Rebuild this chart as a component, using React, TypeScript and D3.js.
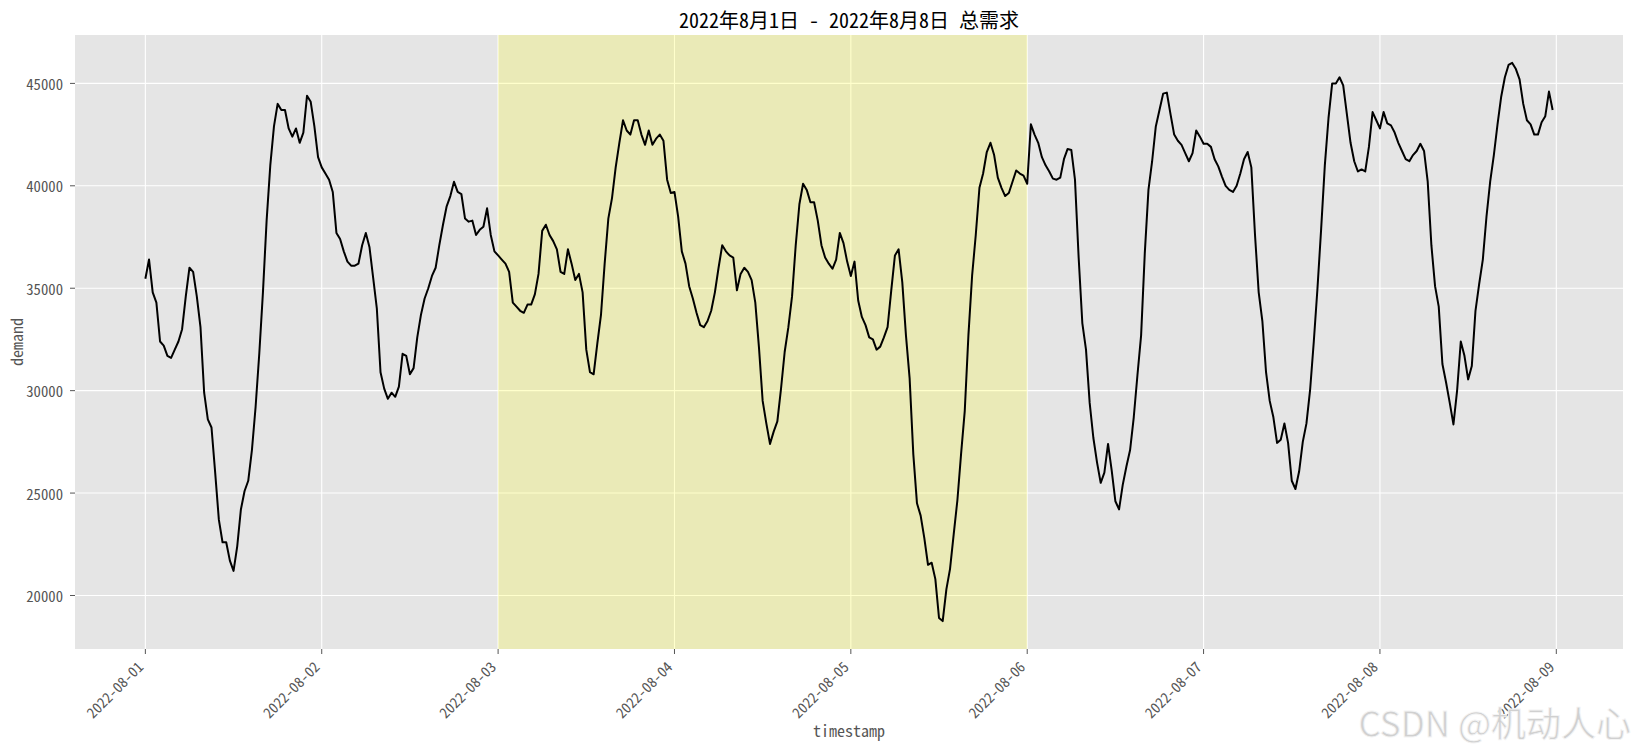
import { useMemo } from "react";
import * as d3 from "d3";

// half-hourly total demand, 2022-08-01 00:00 .. 2022-08-08 23:30
const day1 = [
  35460, 36400, 34800, 34300, 32400, 32200, 31700, 31600, 32000, 32400, 33000, 34600,
  36000, 35800, 34600, 33100, 29900, 28600, 28200, 26000, 23700, 22600, 22600, 21700,
  21200, 22400, 24200, 25100, 25600, 27100, 29200, 31800, 34800, 38300, 41000, 42900,
  44000, 43700, 43700, 42800, 42400, 42800, 42100, 42600, 44400, 44100, 42900, 41400,
];
const day2 = [
  40900, 40600, 40300, 39700, 37700, 37400, 36800, 36300, 36100, 36100, 36200, 37100,
  37700, 37000, 35500, 34000, 30900, 30100, 29600, 29900, 29700, 30200, 31800, 31700,
  30800, 31100, 32600, 33700, 34500, 35000, 35600, 36000, 37100, 38100, 39000, 39500,
  40200, 39700, 39600, 38400, 38250, 38300, 37600, 37850, 38000, 38900, 37600, 36800,
];
const day3 = [
  36600, 36400, 36200, 35800, 34300, 34100, 33900, 33800, 34200, 34200, 34700, 35700,
  37800, 38100, 37600, 37300, 36900, 35800, 35700, 36900, 36200, 35400, 35700, 34800,
  32000, 30900, 30800, 32300, 33700, 36200, 38400, 39400, 40900, 42100, 43200, 42700,
  42500, 43200, 43200, 42500, 42000, 42700, 42000, 42300, 42500, 42200, 40300, 39650,
];
const day4 = [
  39700, 38500, 36800, 36200, 35100, 34500, 33800, 33200, 33100, 33400, 33900, 34800,
  36000, 37100, 36800, 36600, 36500, 34900, 35700, 36000, 35800, 35400, 34300, 32100,
  29500, 28400, 27400, 28000, 28500, 30100, 31900, 33100, 34600, 37100, 39100, 40100,
  39800, 39200, 39200, 38300, 37100, 36500, 36200, 35950, 36400, 37700, 37200, 36300,
];
const day5 = [
  35600, 36300, 34400, 33600, 33200, 32600, 32500, 32000, 32150, 32600, 33100, 34900,
  36600, 36900, 35300, 32700, 30600, 26900, 24500, 23900, 22800, 21500, 21600, 20800,
  18900, 18750, 20300, 21300, 23000, 24650, 26900, 29000, 32700, 35600, 37600, 39900,
  40600, 41650, 42100, 41500, 40400, 39900, 39500, 39650, 40200, 40750, 40600, 40500,
];
const day6 = [
  40100, 43000, 42500, 42100, 41400, 41000, 40700, 40350, 40300, 40400, 41300, 41800,
  41750, 40300, 36500, 33300, 32000, 29400, 27700, 26500, 25500, 26000, 27400, 26100,
  24600, 24200, 25400, 26300, 27100, 28700, 30750, 32700, 36700, 39800, 41200, 42900,
  43700, 44500, 44550, 43500, 42500, 42200, 42000, 41600, 41200, 41600, 42700, 42400,
];
const day7 = [
  42050, 42050, 41900, 41300, 40950, 40450, 40000, 39800, 39700, 40000, 40600, 41300,
  41650, 40900, 37600, 34800, 33400, 30900, 29500, 28700, 27450, 27600, 28400, 27450,
  25600, 25200, 26050, 27500, 28400, 30050, 32400, 35000, 37900, 41000, 43300, 45000,
  45000, 45300, 44900, 43500, 42100, 41200, 40700, 40800, 40700, 41900, 43600, 43200,
];
const day8 = [
  42800, 43600, 43050, 42950, 42600, 42100, 41700, 41300, 41200, 41500, 41700, 42050,
  41700, 40200, 37100, 35100, 34100, 31300, 30400, 29400, 28350, 30000, 32400, 31700,
  30550, 31200, 33900, 35200, 36400, 38500, 40200, 41500, 43000, 44350, 45300, 45900,
  46000, 45700, 45200, 44000, 43200, 43000, 42500, 42500, 43100, 43400, 44600, 43700,
];

const demand = [...day1, ...day2, ...day3, ...day4, ...day5, ...day6, ...day7, ...day8];

const xTickLabels = [
  "2022-08-01", "2022-08-02", "2022-08-03", "2022-08-04", "2022-08-05",
  "2022-08-06", "2022-08-07", "2022-08-08", "2022-08-09",
];
const yTicks = [20000, 25000, 30000, 35000, 40000, 45000];
const highlightRange = ["2022-08-03", "2022-08-06"];
const titleText = "2022年8月1日 - 2022年8月8日 总需求";

const W = 1634;
const H = 747;
const plot = { left: 75, top: 35, right: 1623, bottom: 649 };
const font = '"Noto Sans Mono CJK SC", "Noto Sans CJK SC", sans-serif';
const parseDay = d3.timeParse("%Y-%m-%d");

export default function App() {
  const { x, y, path } = useMemo(() => {
    const t0 = parseDay(xTickLabels[0])!.getTime();
    const times = demand.map((_, i) => new Date(t0 + i * 30 * 60000));
    const [tMin, tMax] = d3.extent(times) as [Date, Date];
    const span = tMax.getTime() - tMin.getTime();
    const x = d3
      .scaleTime()
      .domain([new Date(tMin.getTime() - span * 0.05), new Date(tMax.getTime() + span * 0.05)])
      .range([plot.left, plot.right]);
    const [vMin, vMax] = d3.extent(demand) as [number, number];
    const pad = (vMax - vMin) * 0.05;
    const y = d3.scaleLinear().domain([vMin - pad, vMax + pad]).range([plot.bottom, plot.top]);
    const line = d3
      .line<number>()
      .x((_, i) => x(times[i]))
      .y((d) => y(d));
    return { x, y, path: line(demand) ?? "" };
  }, []);

  const xTicks = xTickLabels.map((s) => ({ label: s, pos: x(parseDay(s)!) }));
  const hx0 = x(parseDay(highlightRange[0])!);
  const hx1 = x(parseDay(highlightRange[1])!);
  const cx = (plot.left + plot.right) / 2;

  return (
    <div style={{ position: "fixed", left: 0, top: 0 }}>
      <svg width={W} height={H} style={{ display: "block", background: "#fff" }}>
        <rect
          x={plot.left}
          y={plot.top}
          width={plot.right - plot.left}
          height={plot.bottom - plot.top}
          fill="#e5e5e5"
        />
        {yTicks.map((t) => (
          <line key={"gy" + t} x1={plot.left} x2={plot.right} y1={y(t)} y2={y(t)} stroke="#fff" strokeWidth={1.1} />
        ))}
        {xTicks.map((t) => (
          <line key={"gx" + t.label} x1={t.pos} x2={t.pos} y1={plot.top} y2={plot.bottom} stroke="#fff" strokeWidth={1.1} />
        ))}
        <rect
          x={hx0}
          y={plot.top}
          width={hx1 - hx0}
          height={plot.bottom - plot.top}
          fill="yellow"
          fillOpacity={0.2}
        />
        <path d={path} fill="none" stroke="#000" strokeWidth={2} strokeLinejoin="round" />

        {/* y axis */}
        {yTicks.map((t) => (
          <g key={"ty" + t}>
            <line x1={plot.left - 5} x2={plot.left} y1={y(t)} y2={y(t)} stroke="#555" strokeWidth={1} />
            <text
              x={plot.left - 12}
              y={y(t)}
              textAnchor="end"
              dominantBaseline="central"
              fontFamily={font}
              fontSize={14.7}
              fill="#555"
            >
              {t}
            </text>
          </g>
        ))}
        {/* x axis */}
        {xTicks.map((t) => (
          <g key={"tx" + t.label}>
            <line x1={t.pos} x2={t.pos} y1={plot.bottom} y2={plot.bottom + 5} stroke="#555" strokeWidth={1} />
            <text
              transform={`translate(${t.pos - 1},${plot.bottom + 19}) rotate(-45)`}
              textAnchor="end"
              fontFamily={font}
              fontSize={14.5}
              fill="#555"
            >
              {t.label}
            </text>
          </g>
        ))}

        <text x={cx} y={737} textAnchor="middle" fontFamily={font} fontSize={16} fill="#555">
          timestamp
        </text>
        <text
          transform={`translate(23,${(plot.top + plot.bottom) / 2}) rotate(-90)`}
          textAnchor="middle"
          fontFamily={font}
          fontSize={16}
          fill="#555"
        >
          demand
        </text>
        <text x={cx} y={28} textAnchor="middle" fontFamily={font} fontSize={20} fill="#000">
          {titleText}
        </text>

        <text
          x={1631}
          y={737}
          textAnchor="end"
          fontFamily='"Noto Sans CJK SC", sans-serif'
          fontSize={35}
          fill="#d0d0d0"
          stroke="#f4f4f4"
          strokeWidth={0.8}
        >
          CSDN @机动人心
        </text>
      </svg>
    </div>
  );
}
